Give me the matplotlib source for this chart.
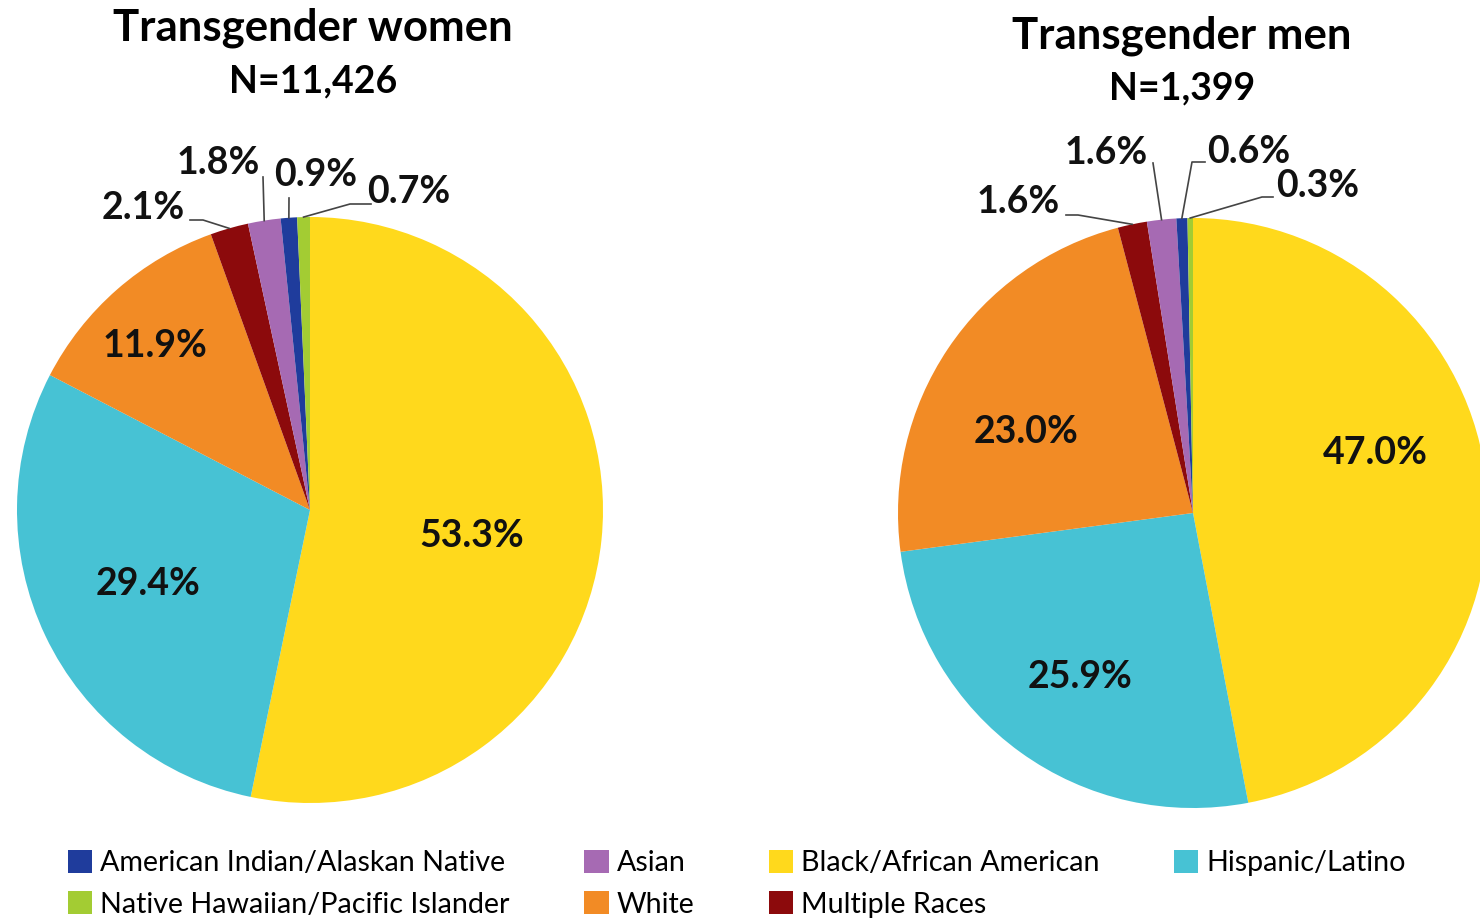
import matplotlib.pyplot as plt
import numpy as np

plt.rcParams['font.family'] = ['Lato', 'DejaVu Sans']

# data
categories = ['Black/African American', 'Hispanic/Latino', 'White', 'Multiple Races',
              'Asian', 'American Indian/Alaskan Native', 'Native Hawaiian/Pacific Islander']
women = [53.3, 29.4, 11.9, 2.1, 1.8, 0.9, 0.7]
men = [47.0, 25.9, 23.0, 1.6, 1.6, 0.6, 0.3]
titles = ['Transgender women', 'Transgender men']
counts = ['N=11,426', 'N=1,399']

colors = ['#FFD91C', '#47C2D4', '#F28B25', '#8C0A0C', '#A66AB3', '#1F3C9C', '#A3CC33']
legend_order = [5, 6, 4, 2, 0, 3, 1]

W, H = 1480, 919
fig = plt.figure(figsize=(W / 100, H / 100), dpi=100)
ax = fig.add_axes([0, 0, 1, 1])

# layout (pixel coords, y from top)
pies = [
    dict(vals=women, center=(310, 510), r=293, title=(313, 28), n=(313, 81),
         inside={0: (472, 536), 1: (148, 584), 2: (155, 346)},
         outside={3: [(143, 208), (190, 220), (203, 220)],
                  4: [(218, 163), (263, 177)],
                  5: [(316, 175), (289, 198)],
                  6: [(409, 192), (371, 204), (350, 204)]}),
    dict(vals=men, center=(1193, 513), r=295, title=(1182, 36), n=(1182, 88),
         inside={0: (1375, 453), 1: (1080, 677), 2: (1026, 432)},
         outside={3: [(1018, 202), (1066, 215), (1078, 215)],
                  4: [(1106, 153), (1153, 163)],
                  5: [(1249, 152), (1205, 162), (1192, 162)],
                  6: [(1318, 186), (1273, 197), (1262, 197)]}),
]

handles = None
for k, p in enumerate(pies):
    wedges, _ = ax.pie(p['vals'], colors=colors, startangle=-90, counterclock=True,
                       center=p['center'], radius=p['r'],
                       wedgeprops=dict(linewidth=0))
    if handles is None:
        handles = wedges
    cx, cy = p['center']
    for i, (x, y) in p['inside'].items():
        ax.text(x, y, f'{p["vals"][i]:.1f}%', ha='center', va='center',
                fontsize=27, fontweight='bold', color='#111111')
    for i, pts in p['outside'].items():
        w = wedges[i]
        th = np.deg2rad((w.theta1 + w.theta2) / 2)
        ex, ey = cx + p['r'] * np.cos(th), cy + p['r'] * np.sin(th)
        tx, ty = pts[0]
        ax.text(tx, ty, f'{p["vals"][i]:.1f}%', ha='center', va='center',
                fontsize=27, fontweight='bold', color='#111111')
        xs = [q[0] for q in pts[1:]] + [ex]
        ys = [q[1] for q in pts[1:]] + [ey]
        ax.plot(xs, ys, color='#444444', linewidth=1.2)
    ax.text(p['title'][0], p['title'][1], titles[k], ha='center', va='center',
            fontsize=31.5, fontweight='bold')
    ax.text(p['n'][0], p['n'][1], counts[k], ha='center', va='center',
            fontsize=27, fontweight='bold')

ax.set_xlim(0, W)
ax.set_ylim(H, 0)
ax.set_aspect('equal')
ax.axis('off')

fig.legend([handles[i] for i in legend_order], [categories[i] for i in legend_order],
           ncol=4, loc='upper left', bbox_to_anchor=(68 / W, 1 - 850 / H),
           frameon=False, fontsize=20.6, handlelength=0.85, handleheight=0.85,
           handletextpad=0.28, columnspacing=2.6, labelspacing=0.53, borderpad=0,
           borderaxespad=0)

fig.savefig('out.png', dpi=100)
